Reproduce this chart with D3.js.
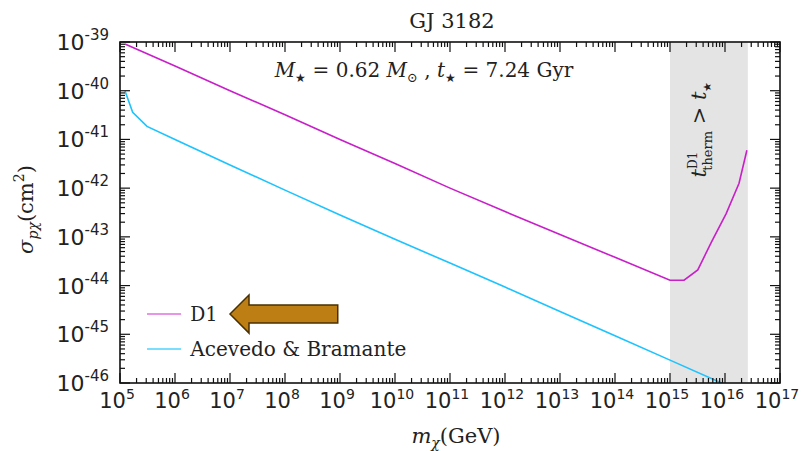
<!DOCTYPE html>
<html lang="en">
<head>
<meta charset="UTF-8">
<style>
  body { margin: 0; background: #fff; }
  svg text { fill: #222; }
  .tick-label { font-family: "DejaVu Sans", sans-serif; font-size: 21px; }
  .serif { font-family: "DejaVu Serif", "Liberation Serif", serif; }
</style>
</head>
<body>
<svg id="chart"></svg>
<script src="https://cdnjs.cloudflare.com/ajax/libs/d3/7.8.5/d3.min.js"></script>
<script>
// D1 bound
const d1Mass  = [1.23e5, 1e6, 1e7, 1e8, 1e9, 1e10, 1e11, 1e12, 1e13, 1e14, 1e15, 1.8e15, 3.2e15, 5.6e15, 1.05e16, 1.8e16, 2.5e16]
const d1Sigma = [9.1e-40, 3.2e-40, 1e-40, 3.2e-41, 1e-41, 3.2e-42, 1e-42, 3.3e-43, 1.12e-43, 3.8e-44, 1.29e-44, 1.29e-44, 2.1e-44, 7.6e-44, 3e-43, 1.26e-42, 6e-42]
// Acevedo & Bramante bound
const abMass  = [1.23e5, 1.7e5, 3.1e5, 1e6, 1e7, 1e8, 1e9, 1e10, 1e11, 1e12, 1e13, 1e14, 1e15, 1e16]
const abSigma = [1e-40, 3.6e-41, 1.85e-41, 1e-41, 3e-42, 9.1e-43, 2.8e-43, 8.9e-44, 2.9e-44, 9.3e-45, 2.95e-45, 9.3e-46, 2.95e-46, 9.3e-47]
// region where t_therm > t_star
const shadeRange = [1e15, 2.6e16]

const xExponents = [5, 6, 7, 8, 9, 10, 11, 12, 13, 14, 15, 16, 17]
const yExponents = [-39, -40, -41, -42, -43, -44, -45, -46]

const width = 807, height = 451
const margin = { top: 42, right: 27, bottom: 68, left: 120 }
const innerW = width - margin.left - margin.right
const innerH = height - margin.top - margin.bottom

const x = d3.scaleLog().domain([1e5, 1e17]).range([0, innerW])
const y = d3.scaleLog().domain([1e-46, 1e-39]).range([innerH, 0])

const svg = d3.select('#chart')
    .attr('width', width)
    .attr('height', height)

svg.append('defs').append('clipPath')
    .attr('id', 'plot-clip')
  .append('rect')
    .attr('width', innerW)
    .attr('height', innerH)

const g = svg.append('g')
    .attr('transform', `translate(${margin.left},${margin.top})`)

// shaded band
g.append('rect')
    .attr('x', x(shadeRange[0]))
    .attr('y', 0)
    .attr('width', x(shadeRange[1]) - x(shadeRange[0]))
    .attr('height', innerH)
    .attr('fill', '#e4e4e4')

const line = d3.line()
    .x(d => x(d[0]))
    .y(d => y(d[1]))

const plot = g.append('g').attr('clip-path', 'url(#plot-clip)')

plot.append('path')
    .datum(d3.zip(abMass, abSigma))
    .attr('d', line)
    .attr('fill', 'none')
    .attr('stroke', '#1cc3ff')
    .attr('stroke-width', 1.6)

plot.append('path')
    .datum(d3.zip(d1Mass, d1Sigma))
    .attr('d', line)
    .attr('fill', 'none')
    .attr('stroke', '#c81fc8')
    .attr('stroke-width', 1.6)

// ticks (inward, on all four sides)
const xMinor = [], yMinor = []
for (let e = 5; e < 17; e++) for (let k = 2; k < 10; k++) xMinor.push(k * Math.pow(10, e))
for (let e = -46; e < -39; e++) for (let k = 2; k < 10; k++) yMinor.push(k * Math.pow(10, e))
const xMajor = xExponents.map(e => Math.pow(10, e))
const yMajor = yExponents.map(e => Math.pow(10, e))

const ticks = g.append('g').attr('stroke', '#111').attr('stroke-width', 1.2)
function xTicks(vals, len) {
  vals.forEach(v => {
    ticks.append('line').attr('x1', x(v)).attr('x2', x(v)).attr('y1', innerH).attr('y2', innerH - len)
    ticks.append('line').attr('x1', x(v)).attr('x2', x(v)).attr('y1', 0).attr('y2', len)
  })
}
function yTicks(vals, len) {
  vals.forEach(v => {
    ticks.append('line').attr('y1', y(v)).attr('y2', y(v)).attr('x1', 0).attr('x2', len)
    ticks.append('line').attr('y1', y(v)).attr('y2', y(v)).attr('x1', innerW).attr('x2', innerW - len)
  })
}
xTicks(xMinor, 5); xTicks(xMajor, 10)
yTicks(yMinor, 5); yTicks(yMajor, 10)

// frame
g.append('rect')
    .attr('width', innerW)
    .attr('height', innerH)
    .attr('fill', 'none')
    .attr('stroke', '#111')
    .attr('stroke-width', 1.6)

// tick labels
xExponents.forEach(e => {
  const t = g.append('text')
      .attr('class', 'tick-label')
      .attr('x', x(Math.pow(10, e)) - 3)
      .attr('y', innerH + 25)
      .attr('text-anchor', 'middle')
  t.append('tspan').text('10')
  t.append('tspan').attr('dy', -9).attr('font-size', 14).text(e)
})
yExponents.forEach(e => {
  const t = g.append('text')
      .attr('class', 'tick-label')
      .attr('x', -11)
      .attr('y', y(Math.pow(10, e)) + 8)
      .attr('text-anchor', 'end')
  t.append('tspan').attr('font-size', 22).text('10')
  t.append('tspan').attr('dy', -10).attr('font-size', 15).text(e)
})

// title
svg.append('text')
    .attr('class', 'serif')
    .attr('x', margin.left + innerW / 2 + 2)
    .attr('y', 28)
    .attr('text-anchor', 'middle')
    .attr('font-size', 21)
    .text('GJ 3182')

// axis labels
const xl = svg.append('text')
    .attr('class', 'serif')
    .attr('x', margin.left + innerW / 2 + 6)
    .attr('y', 443)
    .attr('text-anchor', 'middle')
    .attr('font-size', 21)
xl.append('tspan').attr('font-style', 'italic').text('m')
xl.append('tspan').attr('font-style', 'italic').attr('font-size', 14).attr('dy', 5).text('χ')
xl.append('tspan').attr('dy', -5).text('(GeV)')

const yl = svg.append('text')
    .attr('class', 'serif')
    .attr('transform', `translate(33,${margin.top + innerH / 2 - 3}) rotate(-90)`)
    .attr('text-anchor', 'middle')
    .attr('font-size', 21)
yl.append('tspan').attr('font-style', 'italic').text('σ')
yl.append('tspan').attr('font-style', 'italic').attr('font-size', 14).attr('dy', 5).text('pχ')
yl.append('tspan').attr('dy', -5).text('(cm')
yl.append('tspan').attr('font-size', 14).attr('dy', -9).text('2')
yl.append('tspan').attr('dy', 9).text(')')

// star parameters
const ann = g.append('text')
    .attr('class', 'serif')
    .attr('x', x(1e10) + 29)
    .attr('y', 35)
    .attr('text-anchor', 'middle')
    .attr('font-size', 20)
ann.append('tspan').attr('font-style', 'italic').text('M')
ann.append('tspan').attr('font-size', 12).attr('dy', 5).text('★')
ann.append('tspan').attr('dy', -5).text(' = 0.62 ')
ann.append('tspan').attr('font-style', 'italic').text('M')
ann.append('tspan').attr('font-size', 13).attr('dy', 5).text('⊙')
ann.append('tspan').attr('dy', -5).text(' ,  ')
ann.append('tspan').attr('font-style', 'italic').text('t')
ann.append('tspan').attr('font-size', 12).attr('dy', 5).text('★')
ann.append('tspan').attr('dy', -5).text(' = 7.24 Gyr')

// rotated label in band
const band = g.append('text')
    .attr('class', 'serif')
    .attr('transform', `translate(${x(3.3e15) + 7},${y(1.6e-41)}) rotate(-90)`)
    .attr('text-anchor', 'middle')
    .attr('font-size', 21)
band.append('tspan').attr('font-style', 'italic').text('t')
band.append('tspan').attr('font-size', 12).attr('dy', -9).text('D1')
band.append('tspan').attr('font-size', 13).attr('dy', 15).attr('dx', -19).text('therm')
band.append('tspan').attr('dy', -6).text('  >  ')
band.append('tspan').attr('font-style', 'italic').text('t')
band.append('tspan').attr('font-size', 11).attr('dy', 5).text('★')

// legend
const legend = [
  { name: 'D1', color: '#e070e0', y: 2.6e-45, len: 27 },
  { name: 'Acevedo & Bramante', color: '#4fd3ff', y: 5e-46, len: 216 }
]
const lg = g.selectAll('.legend').data(legend).enter().append('g')
lg.append('line')
    .attr('x1', x(3.1e5)).attr('x2', x(1.29e6))
    .attr('y1', d => y(d.y)).attr('y2', d => y(d.y))
    .attr('stroke', d => d.color)
    .attr('stroke-width', 1.6)
lg.append('text')
    .attr('class', 'serif')
    .attr('x', x(1.9e6))
    .attr('y', d => y(d.y) + 7)
    .attr('font-size', 20)
    .attr('fill', '#333')
    .attr('textLength', d => d.len)
    .attr('lengthAdjust', 'spacingAndGlyphs')
    .text(d => d.name)

// arrow pointing at the D1 legend entry
const tipX = x(1e7), midY = y(2.6e-45)
const headX = tipX + 19, tailX = x(9.1e8)
g.append('path')
    .attr('d', `M${tipX},${midY} L${headX},${midY - 19} L${headX},${midY - 9} L${tailX},${midY - 9}
                L${tailX},${midY + 9} L${headX},${midY + 9} L${headX},${midY + 19} Z`)
    .attr('fill', '#bd7f13')
    .attr('stroke', '#4a3000')
    .attr('stroke-width', 1.5)
</script>
</body>
</html>
